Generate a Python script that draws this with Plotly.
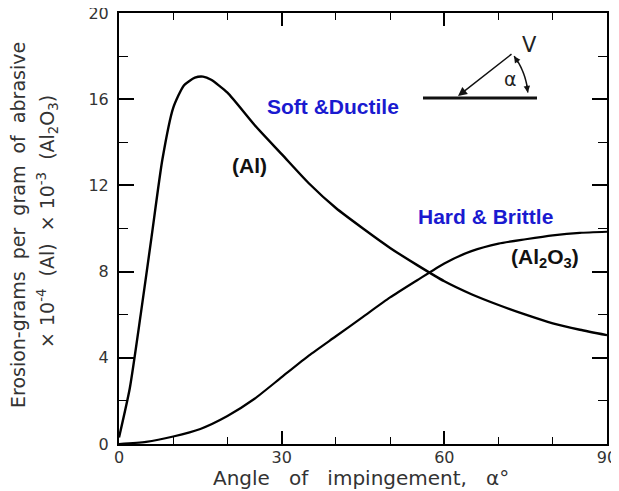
import math
import plotly.graph_objects as go

# ---- data ----
al_angle = [0, 2, 4, 6, 8, 10, 12, 14, 15.5, 17, 20, 25, 30, 35, 40, 45, 50, 55, 60, 65, 70, 75, 80, 85, 90]
al_erosion = [0.3, 2.6, 6.0, 9.6, 13.2, 15.6, 16.65, 17.0, 17.05, 16.9, 16.3, 14.8, 13.45, 12.1, 10.95, 10.0, 9.1, 8.3, 7.55, 6.95, 6.45, 6.0, 5.6, 5.3, 5.05]

al2o3_angle = [0, 5, 10, 15, 20, 25, 30, 35, 40, 45, 50, 55, 60, 65, 70, 75, 80, 85, 90]
al2o3_erosion = [0, 0.1, 0.35, 0.7, 1.3, 2.1, 3.1, 4.1, 5.0, 5.9, 6.8, 7.6, 8.38, 8.95, 9.3, 9.5, 9.68, 9.8, 9.85]

x_tickvals = [0, 30, 60, 90]
y_tickvals = [0, 4, 8, 12, 16, 20]

OFF = 8  # page body margin
WIN_W, WIN_H = 619, 491
# plot area in window pixels
PL, PR, PT, PB = 119, 607, 13, 444
PW, PH = PR - PL, PB - PT
W, H = WIN_W - OFF, WIN_H - OFF
ML, MT = PL - OFF, PT - OFF
MR, MB = W - ML - PW, H - MT - PH
XR, YR = (0, 90), (0, 20)
NB = "\u00a0"


def px2data(px, py):
    x = XR[0] + (px - PL) / PW * (XR[1] - XR[0])
    y = YR[0] + (PB - py) / PH * (YR[1] - YR[0])
    return x, y


def px2paper(px, py):
    return (px - PL) / PW, (PB - py) / PH


fig = go.Figure()
fig.add_trace(go.Scatter(x=al_angle, y=al_erosion, mode="lines",
                         line=dict(color="black", width=2.4, shape="spline", smoothing=0.6),
                         showlegend=False, hoverinfo="skip"))
fig.add_trace(go.Scatter(x=al2o3_angle, y=al2o3_erosion, mode="lines",
                         line=dict(color="black", width=2.2, shape="spline", smoothing=0.6),
                         showlegend=False, hoverinfo="skip"))

tickfont = dict(family="DejaVu Sans", size=16, color="#333")
fig.update_xaxes(range=list(XR), tickvals=x_tickvals, ticks="inside", ticklen=13, tickwidth=1.5,
                 tickcolor="black", showline=True, linecolor="black", linewidth=2, mirror="ticks",
                 showgrid=False, zeroline=False, tickfont=tickfont, automargin=False,
                 ticklabeloverflow="allow", ticklabelstandoff=-2,
                 minor=dict(ticks="inside", dtick=10, ticklen=7, tickwidth=1.3, tickcolor="black"))
fig.update_yaxes(range=list(YR), tickvals=y_tickvals, ticks="inside", ticklen=15, tickwidth=1.5,
                 tickcolor="black", showline=True, linecolor="black", linewidth=2, mirror="ticks",
                 showgrid=False, zeroline=False, tickfont=tickfont, automargin=False,
                 ticklabelstandoff=5, ticklabeloverflow="allow",
                 minor=dict(ticks="inside", dtick=2, ticklen=9, tickwidth=1.3, tickcolor="black"))

ann = []
C = dict(xanchor="center", yanchor="middle", showarrow=False)
# axis titles
x, y = px2paper(361, 478)
ann.append(dict(xref="paper", yref="paper", x=x, y=y,
                text=f"Angle{NB*3}of{NB*3}impingement,{NB*3}α°",
                font=dict(family="DejaVu Sans", size=20, color="#333"), **C))
x, y = px2paper(18, 225)
ann.append(dict(xref="paper", yref="paper", x=x, y=y,
                text=f"Erosion-grams{NB*2}per{NB*2}gram{NB*2}of{NB*2}abrasive", textangle=-90,
                font=dict(family="DejaVu Sans", size=19, color="#333"), **C))
x, y = px2paper(47, 222)
ann.append(dict(xref="paper", yref="paper", x=x, y=y,
                text=f"×{NB}10<sup>-4</sup>{NB*2}(Al){NB*2}×{NB}10<sup>-3</sup>{NB*2}(Al<sub>2</sub>O<sub>3</sub>)",
                textangle=-90,
                font=dict(family="DejaVu Sans", size=19, color="#333"), **C))
# curve labels
for txt, px, py, col in [("<b>Soft &Ductile</b>", 333, 106, "#1a1ad0"),
                         ("<b>Hard & Brittle</b>", 485, 216, "#1a1ad0"),
                         ("<b>(Al)</b>", 249, 165, "#111"),
                         ("<b>(Al<sub>2</sub>O<sub>3</sub>)</b>", 545, 258, "#111")]:
    x, y = px2data(px, py)
    ann.append(dict(x=x, y=y, text=txt,
                    font=dict(family="Liberation Sans", size=21, color=col), **C))

# inset diagram
x, y = px2data(529, 45)
ann.append(dict(x=x, y=y, text="V", font=dict(family="DejaVu Sans", size=21, color="#222"), **C))
x, y = px2data(510, 79)
ann.append(dict(x=x, y=y, text="α", font=dict(family="DejaVu Sans", size=19, color="#222"), **C))
x, y = px2data(458, 96)
ann.append(dict(x=x, y=y, text="", showarrow=True, arrowhead=2, arrowsize=1.2, arrowwidth=1.5,
                arrowcolor="#111", ax=513 - 458, ay=53 - 96))
cx, cy, r = 458, 98, 70
for a_head, a_tail in [(36.7, 29.0), (4.5, 12.0)]:
    hx, hy = cx + r * math.cos(math.radians(a_head)), cy - r * math.sin(math.radians(a_head))
    tx, ty = cx + r * math.cos(math.radians(a_tail)), cy - r * math.sin(math.radians(a_tail))
    x, y = px2data(hx, hy)
    ann.append(dict(x=x, y=y, text="", showarrow=True, arrowhead=2, arrowsize=1, arrowwidth=1.3,
                    arrowcolor="#111", ax=tx - hx, ay=ty - hy))

shapes = []
x0, y0 = px2data(423, 98)
x1, y1 = px2data(537, 98)
shapes.append(dict(type="line", x0=x0, y0=y0, x1=x1, y1=y1, line=dict(color="#111", width=3)))
pts = []
for i in range(21):
    a = math.radians(36.7 + (4.5 - 36.7) * i / 20)
    pts.append(px2data(cx + r * math.cos(a), cy - r * math.sin(a)))
path = "M " + " L ".join(f"{p[0]:.3f},{p[1]:.3f}" for p in pts)
shapes.append(dict(type="path", path=path, line=dict(color="#111", width=1.5)))

fig.update_layout(width=W, height=H, margin=dict(l=ML, r=MR, t=MT, b=MB, autoexpand=False),
                  plot_bgcolor="white", paper_bgcolor="white",
                  annotations=ann, shapes=shapes, showlegend=False)

fig.write_html("out.html")
